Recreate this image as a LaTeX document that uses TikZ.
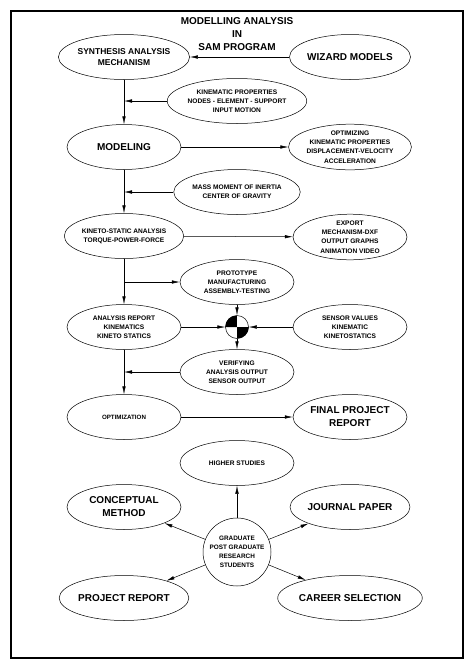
\documentclass[tikz,border=0pt]{standalone}
\usepackage{fontspec}
\setmainfont{Liberation Sans}
\usetikzlibrary{shapes.geometric,arrows.meta,positioning}
\tikzset{
    bubble/.style={ellipse, draw, line width=0.5pt, minimum width=114pt, minimum height=45pt, inner sep=0pt, align=center, font=\bfseries\fontsize{6.6}{9.2}\selectfont},
    bigtext/.style={font=\bfseries\fontsize{10}{13}\selectfont},
    midtext/.style={font=\bfseries\fontsize{8.5}{10.7}\selectfont},
    junction/.style={circle, draw, line width=0.5pt, minimum size=23pt, inner sep=0pt},
    hub/.style={circle, draw, line width=0.5pt, minimum size=68pt, inner sep=0pt, align=center, font=\bfseries\fontsize{6.4}{9}\selectfont},
    line/.style={draw, line width=0.5pt, -{Latex[length=8pt,width=3.5pt]}}
}
\begin{document}
\begin{tikzpicture}[x=1pt, y=-1pt]
    \useasboundingbox (0,0) rectangle (474,670);
    \draw [line width=1.4pt] (11,11) rectangle (463,658);
    \node [align=center, font=\bfseries\fontsize{10}{13}\selectfont] (title) at (237,34) {MODELLING ANALYSIS\\IN\\SAM PROGRAM};

    % Analysis chain
    \node [bubble, midtext] (synth) at (124,57) {SYNTHESIS ANALYSIS\\MECHANISM};
    \node [bubble, bigtext] (wizard) at (350,57) {WIZARD MODELS};
    \node [bubble] (kinprop) at (237,101) {KINEMATIC PROPERTIES\\NODES - ELEMENT - SUPPORT\\INPUT MOTION};
    \node [bubble, bigtext] (model) at (124,147) {MODELING};
    \node [bubble] (optim) at (350,147) {OPTIMIZING\\KINEMATIC PROPERTIES\\DISPLACEMENT-VELOCITY\\ACCELERATION};
    \node [bubble] (mass) at (237,192) {MASS MOMENT OF INERTIA\\CENTER OF GRAVITY};
    \node [bubble] (kineto) at (124,236) {KINETO-STATIC ANALYSIS\\TORQUE-POWER-FORCE};
    \node [bubble] (export) at (350,237) {EXPORT\\MECHANISM-DXF\\OUTPUT GRAPHS\\ANIMATION VIDEO};
    \node [bubble] (proto) at (237,282) {PROTOTYPE\\MANUFACTURING\\ASSEMBLY-TESTING};
    \node [bubble] (report) at (124,327) {ANALYSIS REPORT\\KINEMATICS\\KINETO STATICS};
    \node [junction] (sum) at (237,327) {};
    \node [bubble] (sensor) at (350,327) {SENSOR VALUES\\KINEMATIC\\KINETOSTATICS};
    \node [bubble] (verif) at (237,372) {VERIFYING\\ANALYSIS OUTPUT\\SENSOR OUTPUT};
    \node [bubble, font=\bfseries\fontsize{6.2}{9}\selectfont] (optimz) at (124,417) {OPTIMIZATION};
    \node [bubble, bigtext] (final) at (350,417) {FINAL PROJECT\\REPORT};

    % Outcomes
    \node [bubble] (higher) at (237,463) {HIGHER STUDIES};
    \node [bubble, bigtext] (concept) at (124,507) {CONCEPTUAL\\METHOD};
    \node [bubble, bigtext] (journal) at (350,507) {JOURNAL PAPER};
    \node [hub] (grad) at (237,552) {GRADUATE\\POST GRADUATE\\RESEARCH\\STUDENTS};
    \node [bubble, bigtext] (project) at (124,598) {PROJECT REPORT};
    \node [bubble, bigtext] (career) at (350,598) {CAREER SELECTION};

    % Junction quarters
    \fill (sum.center) -- (sum.east) arc [start angle=0, end angle=-90, radius=11.5pt] -- cycle;
    \fill (sum.center) -- (sum.west) arc [start angle=180, end angle=90, radius=11.5pt] -- cycle;

    % Main flow
    \path [line] (wizard) -- (synth);
    \path [line] (synth) -- (model);
    \path [line] (kinprop.west) -- (kinprop.west -| synth.south);
    \path [line] (model) -- (optim);
    \path [line] (model) -- (kineto);
    \path [line] (mass.west) -- (mass.west -| model.south);
    \path [line] (kineto) -- (export);
    \path [line] (kineto) -- (report);
    \path [line] (proto.west -| kineto.south) -- (proto.west);
    \path [line] (report) -- (sum);
    \path [line] (sensor) -- (sum);
    \path [line] (proto) -- (sum);
    \path [line] (sum) -- (verif);
    \path [line] (report) -- (optimz);
    \path [line] (verif.west) -- (verif.west -| report.south);
    \path [line] (optimz) -- (final);

    % From students
    \path [line] (grad) -- (higher);
    \path [line] (grad) -- (concept);
    \path [line] (grad) -- (journal);
    \path [line] (grad) -- (project);
    \path [line] (grad) -- (career);
\end{tikzpicture}
\end{document}
